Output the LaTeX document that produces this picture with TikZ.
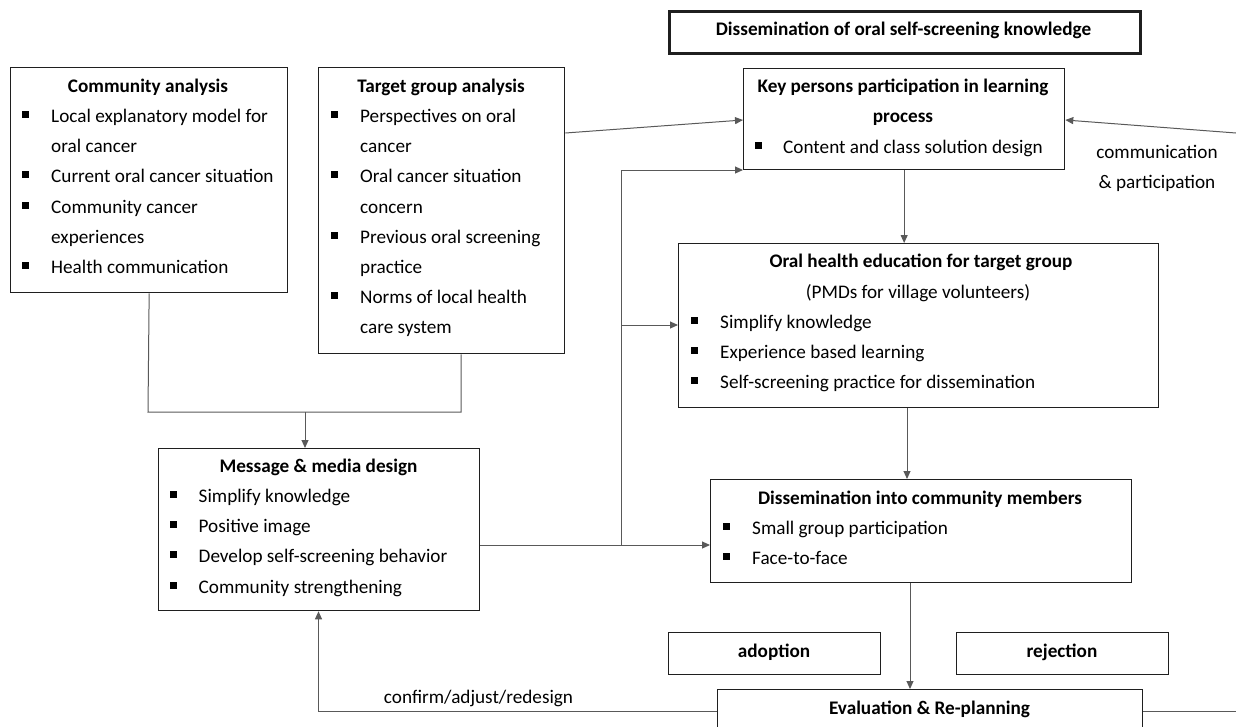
\documentclass[tikz,border=0pt]{standalone}
\usepackage{fontspec}
\setmainfont{Carlito}
\usetikzlibrary{arrows.meta,calc}
\newcounter{tno}
\tikzset{
  box/.style={draw=black!88, line width=1.3pt, rectangle, inner sep=0pt, anchor=north west},
  bigbox/.style={box, line width=2.6pt},
  txtl/.style={anchor=base west, inner sep=0pt, font=\fontsize{19.2}{23}\selectfont},
  ttl/.style={anchor=base, inner sep=0pt, font=\fontsize{19.2}{23}\selectfont\bfseries},
  txtc/.style={anchor=base, inner sep=0pt, font=\fontsize{19.2}{23}\selectfont},
  conn/.style={draw=black!65, line width=1pt},
  arr/.style={conn, -{Triangle[length=8pt,width=7pt]}},
}
\newcommand{\txt}[3]{\stepcounter{tno}\node[txtl] (t\arabic{tno}) at (#1,#2+5.5) {#3};}
\newcommand{\ttl}[3]{\stepcounter{tno}\node[ttl] (t\arabic{tno}) at (#1,#2+5.5) {#3};}
\newcommand{\ctx}[3]{\stepcounter{tno}\node[txtc] (t\arabic{tno}) at (#1,#2+5.5) {#3};}
\newcommand{\bul}[4]{\fill (#1-3.5,#3-6) rectangle (#1+3.5,#3+1); \txt{#2}{#3}{#4}}
\begin{document}
\begin{tikzpicture}[x=1pt,y=-1pt]
\clip (0,0) rectangle (1236,726);
\useasboundingbox (0,0) rectangle (1236,726);
% boxes
\node[bigbox, minimum width=471, minimum height=42] (top) at (668,10) {};
\node[box, minimum width=277, minimum height=225] (ca) at (10,67) {};
\node[box, minimum width=246, minimum height=286] (tg) at (318,67) {};
\node[box, minimum width=321, minimum height=101] (kp) at (743,68) {};
\node[box, minimum width=480, minimum height=164] (oh) at (678,243) {};
\node[box, minimum width=321, minimum height=162] (mm) at (158,448) {};
\node[box, minimum width=421, minimum height=103] (dm) at (710,479) {};
\node[box, minimum width=212, minimum height=42] (ad) at (668,632) {};
\node[box, minimum width=212, minimum height=42] (rj) at (956,632) {};
\node[box, minimum width=425, minimum height=80] (ev) at (717,689) {};
% texts
\ttl{903.5}{30}{Dissemination of oral self-screening knowledge}
\ttl{148}{87}{Community analysis}
\bul{25.5}{51}{117}{Local explanatory model for}
\txt{51}{147}{oral cancer}
\bul{25.5}{51}{177}{Current oral cancer situation}
\bul{25.5}{51}{208}{Community cancer}
\txt{51}{238}{experiences}
\bul{25.5}{51}{268}{Health communication}
\ttl{441}{87}{Target group analysis}
\bul{334.5}{360}{117}{Perspectives on oral}
\txt{360}{147}{cancer}
\bul{334.5}{360}{177}{Oral cancer situation}
\txt{360}{208}{concern}
\bul{334.5}{360}{238}{Previous oral screening}
\txt{360}{268}{practice}
\bul{334.5}{360}{298}{Norms of local health}
\txt{360}{328}{care system}
\ttl{903}{87}{Key persons participation in learning}
\ttl{903}{117}{process}
\bul{758.5}{783}{148}{Content and class solution design}
\ttl{921}{262}{Oral health education for target group}
\ctx{918}{293}{(PMDs for village volunteers)}
\bul{694.5}{720}{323}{Simplify knowledge}
\bul{694.5}{720}{353}{Experience based learning}
\bul{694.5}{720}{383}{Self-screening practice for dissemination}
\ttl{920}{499}{Dissemination into community members}
\bul{726}{752}{529}{Small group participation}
\bul{726}{752}{559}{Face-to-face}
\ttl{318.5}{467}{Message \& media design}
\bul{173}{198.5}{497}{Simplify knowledge}
\bul{173}{198.5}{527}{Positive image}
\bul{173}{198.5}{557}{Develop self-screening behavior}
\bul{173}{198.5}{588}{Community strengthening}
\ttl{774}{652}{adoption}
\ttl{1062}{652}{rejection}
\ttl{929.5}{709}{Evaluation \& Re-planning}
\ctx{1157}{153}{communication}
\ctx{1157}{183}{\& participation}
\ctx{478.5}{698}{confirm/adjust/redesign}
% coordinates
\coordinate (rin) at (1236,133);
\coordinate (rout) at (1236,711);
\coordinate (j1) at (148,412);
\coordinate (j2) at (461,412);
\coordinate (j3) at (305,412);
\coordinate (v1) at (621,545);
\coordinate (v2) at (621,170);
\coordinate (v3) at (621,325);
\coordinate (b1) at (318.5,711);
% connectors
\draw[arr] ($(tg.north east)+(0,66)$) -- ($(kp.north west)+(0,52)$);
\draw[arr] (rin) -- ($(kp.north east)+(0,52)$);
\draw[arr] (kp.south) -- (kp.south |- oh.north);
\draw[arr] ($(oh.south west)+(229,0)$) -- ($(dm.north west)+(197,0)$);
\draw[arr] ($(dm.south west)+(200,0)$) -- ($(ev.north west)+(193,0)$);
\draw[conn] (ca.south) -- (j1) -- (j2) -- ($(tg.south west)+(143,0)$);
\draw[arr] (j3) -- (j3 |- mm.north);
\draw[arr] ($(mm.north east)+(0,97)$) -- ($(dm.north west)+(0,66)$);
\draw[arr] (v1) -- (v2) -- (v2 -| kp.west);
\draw[arr] (v3) -- (v3 -| oh.west);
\draw[arr] ($(ev.north west)+(0,22)$) -- (b1) -- (b1 |- mm.south);
\draw[conn] ($(ev.north east)+(0,22)$) -- (rout);
\end{tikzpicture}
\end{document}
